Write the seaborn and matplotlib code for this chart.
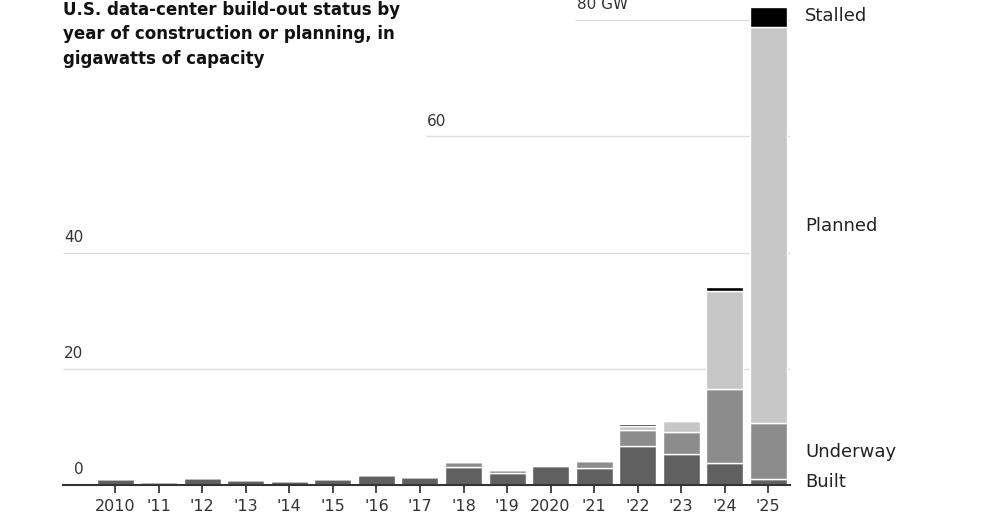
import numpy as np
import pandas as pd
import matplotlib
matplotlib.use("Agg")
import matplotlib.pyplot as plt
import seaborn as sns

years = ["2010", "'11", "'12", "'13", "'14", "'15", "'16", "'17", "'18", "'19",
         "2020", "'21", "'22", "'23", "'24", "'25"]
built = [1.0, 0.5, 1.2, 0.8, 0.7, 1.1, 1.7, 1.4, 3.1, 2.1, 3.3, 2.9, 6.7, 5.3, 3.8, 1.0]
underway = [0, 0, 0, 0, 0, 0, 0, 0, 0.9, 0.5, 0.1, 1.2, 2.8, 3.8, 12.8, 9.7]
planned = [0, 0, 0, 0, 0, 0, 0, 0, 0, 0, 0, 0, 0.7, 1.9, 16.7, 68.1]
stalled = [0, 0, 0, 0, 0, 0, 0, 0, 0, 0, 0, 0, 0.3, 0, 0.7, 3.4]

grid_vals = [20, 40, 60, 80]
grid_labels = ["20", "40", "60", "80 GW"]
grid_start = [-1.2, -1.2, 7.13, 10.57]

sns.set_theme(style="white")
plt.rcParams['font.family'] = ['DejaVu Sans']

df = pd.DataFrame({"year": years, "built": built, "underway": underway,
                   "planned": planned, "stalled": stalled})
b1 = np.array(built)
b2 = b1 + np.array(underway)
b3 = b2 + np.array(planned)

fig = plt.figure(figsize=(9.98, 5.22), dpi=100)
ax = fig.add_axes([63 / 998, 37 / 522, 727 / 998, 482.4 / 522])

for i, v in enumerate(grid_vals):
    ax.hlines(v, grid_start[i], 15.5, color="#dddddd", lw=1, zorder=0)
    ax.text(grid_start[i] + 0.03, v + 1.3, grid_labels[i], fontsize=11,
            color="#333333", ha="left", va="bottom", clip_on=False)
ax.text(-0.95, 1.3, "0", fontsize=11, color="#333333", ha="left", va="bottom")

w = 0.85
sns.barplot(data=df, x="year", y="built", color="#606060", width=w, saturation=1, ax=ax, zorder=2)
sns.barplot(data=df, x="year", y="underway", bottom=b1, color="#8c8c8c", width=w, saturation=1, ax=ax, zorder=2)
sns.barplot(data=df, x="year", y="planned", bottom=b2, color="#c6c6c6", width=w, saturation=1, ax=ax, zorder=2)
sns.barplot(data=df, x="year", y="stalled", bottom=b3, color="#000000", width=w, saturation=1, ax=ax, zorder=2)

ax.set_xlim(-1.2, 15.5)
ax.set_ylim(0, 83)
ax.set_xlabel("")
ax.set_ylabel("")
ax.set_yticks([])
for s in ["top", "right", "left"]:
    ax.spines[s].set_visible(False)
ax.spines["bottom"].set_color("#333333")
ax.spines["bottom"].set_linewidth(1.5)
ax.tick_params(axis="x", bottom=True, length=6, color="#333333", labelsize=11.5,
               labelcolor="#333333", pad=4)

for lab, y in [("Stalled", 80.7), ("Planned", 44.5), ("Underway", 5.7), ("Built", 0.5)]:
    ax.text(15.85, y, lab, fontsize=13, color="#222222", ha="left", va="center", clip_on=False)

fig.text(63 / 998, 1 - 1 / 522,
         "U.S. data-center build-out status by\nyear of construction or planning, in\ngigawatts of capacity",
         fontsize=12, fontweight="bold", ha="left", va="top", linespacing=1.45, color="#111111")

fig.savefig("out.png", dpi=100, facecolor="white")
